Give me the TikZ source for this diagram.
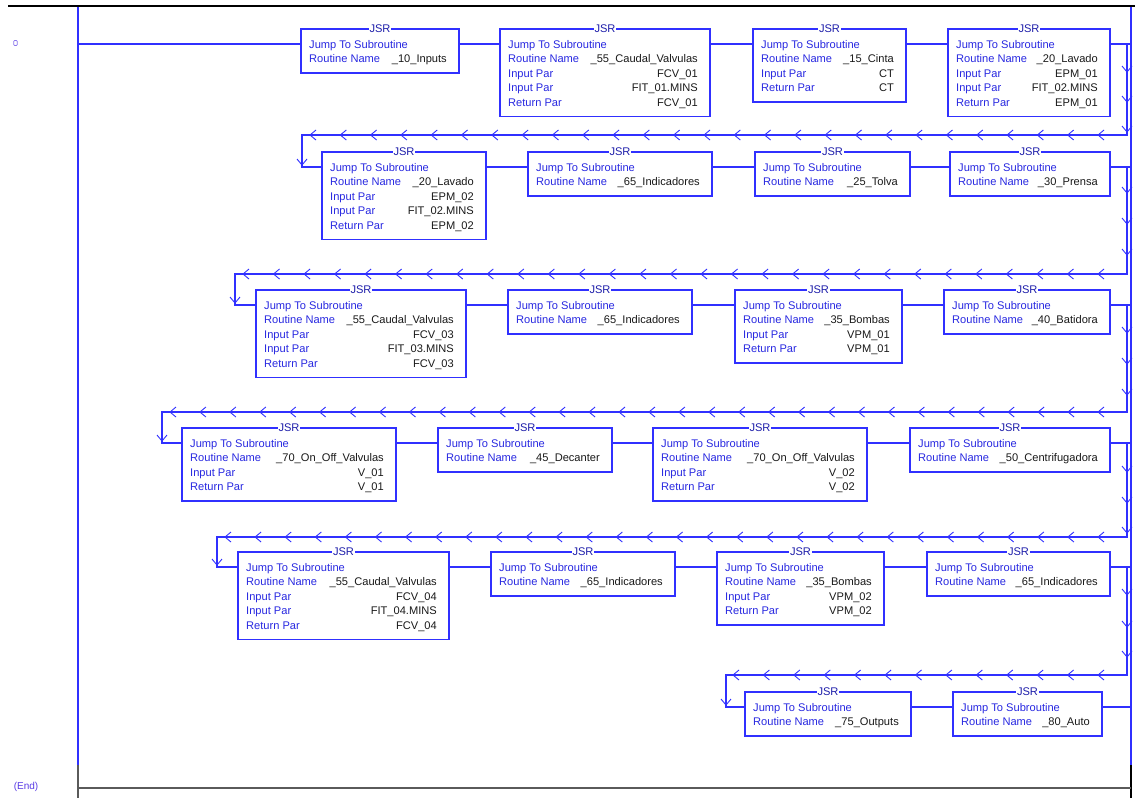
\documentclass[tikz,border=0pt]{standalone}
\usepackage{fontspec}
\setmainfont{Liberation Sans}
\usetikzlibrary{calc}

\definecolor{wireblue}{RGB}{48,48,255}
\definecolor{lblblue}{RGB}{40,40,225}
\definecolor{tagblue}{RGB}{30,30,170}
\definecolor{valblack}{RGB}{25,25,25}
\definecolor{railgray}{RGB}{90,90,90}
\definecolor{endpurple}{RGB}{90,60,230}

\tikzset{
  wire/.style={draw=wireblue, line width=1.3pt},
  rail/.style={draw=wireblue, line width=1.4pt},
  railend/.style={draw=railgray, line width=1.8pt},
  jsrframe/.style={draw=wireblue, line width=1.3pt, rectangle, inner sep=0pt,
                   outer sep=0pt, anchor=north west},
  jsrtag/.style={fill=white, text=tagblue, inner sep=0.6pt,
                 font=\fontsize{11.1}{13}\selectfont},
  lbl/.style={anchor=base west, text=lblblue, inner sep=0pt,
              font=\fontsize{11.1}{13}\selectfont},
  val/.style={anchor=base east, text=valblack, inner sep=0pt,
              font=\fontsize{11.1}{13}\selectfont},
  chev/.style={draw=wireblue, line width=0.9pt},
}

% JSR instruction block: name, left x, right x, rung y, number of text lines, routine
\newcommand{\jsrbox}[6]{%
  \pgfmathsetmacro{\jsrh}{15+14.5*#5}%
  \node[jsrframe, minimum width={#3-#2}, minimum height={\jsrh}] (#1) at (#2,#4-15) {};
  \node[jsrtag] (#1-tag) at (#1.north) {JSR};
  \coordinate (#1-in) at (#2,#4);
  \coordinate (#1-out) at (#3,#4);
  \node[lbl] (#1-l0) at ($(#1.north west)+(8,19)$) {Jump To Subroutine};
  \node[lbl] (#1-l1) at ($(#1.north west)+(8,33.5)$) {Routine Name};
  \node[val] (#1-v1) at ($(#1.north east)+(-12,33.5)$) {#6};
}
% parameter line k of a JSR block
\newcommand{\jsrpar}[4]{%
  \node[lbl] (#1-l#2) at ($(#1.north west)+(8,{19+14.5*#2})$) {#3};
  \node[val] (#1-v#2) at ($(#1.north east)+(-12,{19+14.5*#2})$) {#4};
}
% left-pointing flow marks along a return wire: y, first x, last x
\newcommand{\leftchevs}[3]{%
  \pgfmathtruncatemacro{\nch}{round((#3-#2)/30.3)}%
  \pgfmathsetmacro{\chstep}{(#3-#2)/\nch}%
  \foreach \k in {0,...,\nch} {
    \pgfmathsetmacro{\xc}{#2+\k*\chstep}
    \draw[chev] (\xc+6,#1-5) -- (\xc,#1) -- (\xc+6,#1+5);
  }
}
% downward flow mark with its tip at (x,y)
\newcommand{\downchev}[2]{%
  \draw[chev] (#1-5,#2-6) -- (#1,#2) -- (#1+5,#2-6);
}

\begin{document}
\begin{tikzpicture}[x=1pt,y=-1pt]
  \useasboundingbox (0,0) rectangle (1135,798);
  \fill[white] (0,0) rectangle (1135,798);

  % page header line and power rails
  \coordinate (hdr-l) at (8,6);
  \coordinate (hdr-r) at (1135,6);
  \draw[black, line width=2pt] (hdr-l) -- (hdr-r);
  \coordinate (lr-top) at (78,7);
  \coordinate (lr-mid) at (78,765);
  \coordinate (lr-bot) at (78,798);
  \coordinate (rr-top) at (1131,7);
  \coordinate (rr-mid) at (1131,765);
  \coordinate (rr-bot) at (1131,798);
  \draw[rail] (lr-top) -- (lr-mid);
  \draw[railend] (lr-mid) -- (lr-bot);
  \draw[rail] (rr-top) -- (rr-mid);
  \draw[black, line width=1.6pt] (rr-mid) -- (rr-bot);
  \coordinate (end-l) at (78,788);
  \coordinate (end-r) at (1131,788);
  \draw[railend] (end-l) -- (end-r);

  % rung marker and end label
  \node[draw=endpurple!70, line width=0.7pt, minimum width=3.5pt, minimum height=5pt,
        inner sep=0pt, rounded corners=0.8pt] (rung0) at (15.5,43) {};
  \node[text=endpurple, font=\fontsize{10}{12}\selectfont, inner sep=0pt] (endlbl) at (26,787) {(End)};

  % ---- rung line 1 ----
  \jsrbox{b11}{301}{459}{44}{2}{\_10\_Inputs}
  \jsrbox{b12}{500}{710}{44}{5}{\_55\_Caudal\_Valvulas}
  \jsrpar{b12}{2}{Input Par}{FCV\_01}
  \jsrpar{b12}{3}{Input Par}{FIT\_01.MINS}
  \jsrpar{b12}{4}{Return Par}{FCV\_01}
  \jsrbox{b13}{753}{906}{44}{4}{\_15\_Cinta}
  \jsrpar{b13}{2}{Input Par}{CT}
  \jsrpar{b13}{3}{Return Par}{CT}
  \jsrbox{b14}{948}{1110}{44}{5}{\_20\_Lavado}
  \jsrpar{b14}{2}{Input Par}{EPM\_01}
  \jsrpar{b14}{3}{Input Par}{FIT\_02.MINS}
  \jsrpar{b14}{4}{Return Par}{EPM\_01}

  % ---- rung line 2 ----
  \jsrbox{b21}{322}{486}{167}{5}{\_20\_Lavado}
  \jsrpar{b21}{2}{Input Par}{EPM\_02}
  \jsrpar{b21}{3}{Input Par}{FIT\_02.MINS}
  \jsrpar{b21}{4}{Return Par}{EPM\_02}
  \jsrbox{b22}{528}{712}{167}{2}{\_65\_Indicadores}
  \jsrbox{b23}{755}{910}{167}{2}{\_25\_Tolva}
  \jsrbox{b24}{950}{1110}{167}{2}{\_30\_Prensa}

  % ---- rung line 3 ----
  \jsrbox{b31}{256}{466}{305}{5}{\_55\_Caudal\_Valvulas}
  \jsrpar{b31}{2}{Input Par}{FCV\_03}
  \jsrpar{b31}{3}{Input Par}{FIT\_03.MINS}
  \jsrpar{b31}{4}{Return Par}{FCV\_03}
  \jsrbox{b32}{508}{692}{305}{2}{\_65\_Indicadores}
  \jsrbox{b33}{735}{902}{305}{4}{\_35\_Bombas}
  \jsrpar{b33}{2}{Input Par}{VPM\_01}
  \jsrpar{b33}{3}{Return Par}{VPM\_01}
  \jsrbox{b34}{944}{1110}{305}{2}{\_40\_Batidora}

  % ---- rung line 4 ----
  \jsrbox{b41}{182}{396}{443}{4}{\_70\_On\_Off\_Valvulas}
  \jsrpar{b41}{2}{Input Par}{V\_01}
  \jsrpar{b41}{3}{Return Par}{V\_01}
  \jsrbox{b42}{438}{612}{443}{2}{\_45\_Decanter}
  \jsrbox{b43}{653}{867}{443}{4}{\_70\_On\_Off\_Valvulas}
  \jsrpar{b43}{2}{Input Par}{V\_02}
  \jsrpar{b43}{3}{Return Par}{V\_02}
  \jsrbox{b44}{910}{1110}{443}{2}{\_50\_Centrifugadora}

  % ---- rung line 5 ----
  \jsrbox{b51}{238}{449}{567}{5}{\_55\_Caudal\_Valvulas}
  \jsrpar{b51}{2}{Input Par}{FCV\_04}
  \jsrpar{b51}{3}{Input Par}{FIT\_04.MINS}
  \jsrpar{b51}{4}{Return Par}{FCV\_04}
  \jsrbox{b52}{491}{675}{567}{2}{\_65\_Indicadores}
  \jsrbox{b53}{717}{884}{567}{4}{\_35\_Bombas}
  \jsrpar{b53}{2}{Input Par}{VPM\_02}
  \jsrpar{b53}{3}{Return Par}{VPM\_02}
  \jsrbox{b54}{927}{1110}{567}{2}{\_65\_Indicadores}

  % ---- rung line 6 ----
  \jsrbox{b61}{745}{911}{707}{2}{\_75\_Outputs}
  \jsrbox{b62}{953}{1102}{707}{2}{\_80\_Auto}

  % rail taps and wrap-around points
  \coordinate (lr-1) at (78,44);
  \foreach \r/\y in {1/44,2/167,3/305,4/443,5/567,6/707} {
    \coordinate (rr-\r) at (1131,\y);
  }
  \foreach \r/\y in {1/44,2/167,3/305,4/443,5/567} {
    \coordinate (tap\r) at (1127,\y);
  }
  \coordinate (wrap2) at (302,135);
  \coordinate (wrap3) at (235,274);
  \coordinate (wrap4) at (162,412);
  \coordinate (wrap5) at (217,537);
  \coordinate (wrap6) at (726,675);

  % series connections within each line
  \draw[wire] (lr-1) -- (b11-in);
  \draw[wire] (b11-out) -- (b12-in);
  \draw[wire] (b12-out) -- (b13-in);
  \draw[wire] (b13-out) -- (b14-in);
  \draw[wire] (b14-out) -- (rr-1);

  \draw[wire] (b21-out) -- (b22-in);
  \draw[wire] (b22-out) -- (b23-in);
  \draw[wire] (b23-out) -- (b24-in);
  \draw[wire] (b24-out) -- (rr-2);

  \draw[wire] (b31-out) -- (b32-in);
  \draw[wire] (b32-out) -- (b33-in);
  \draw[wire] (b33-out) -- (b34-in);
  \draw[wire] (b34-out) -- (rr-3);

  \draw[wire] (b41-out) -- (b42-in);
  \draw[wire] (b42-out) -- (b43-in);
  \draw[wire] (b43-out) -- (b44-in);
  \draw[wire] (b44-out) -- (rr-4);

  \draw[wire] (b51-out) -- (b52-in);
  \draw[wire] (b52-out) -- (b53-in);
  \draw[wire] (b53-out) -- (b54-in);
  \draw[wire] (b54-out) -- (rr-5);

  \draw[wire] (b61-out) -- (b62-in);
  \draw[wire] (b62-out) -- (rr-6);

  % wrap-around wires from the end of one line to the start of the next
  \draw[wire] (tap1) |- (wrap2) -- (wrap2 |- b21-in) -- (b21-in);
  \draw[wire] (tap2) |- (wrap3) -- (wrap3 |- b31-in) -- (b31-in);
  \draw[wire] (tap3) |- (wrap4) -- (wrap4 |- b41-in) -- (b41-in);
  \draw[wire] (tap4) |- (wrap5) -- (wrap5 |- b51-in) -- (b51-in);
  \draw[wire] (tap5) |- (wrap6) -- (wrap6 |- b61-in) -- (b61-in);

  % flow marks on the wrap-around wires
  \foreach \yc in {72,102,132,193,224,255,333,364,395,472,503,533,595,627,657} {
    \downchev{1127}{\yc}
  }
  \leftchevs{135}{310}{1098}
  \leftchevs{274}{243}{1098}
  \leftchevs{412}{170}{1098}
  \leftchevs{537}{225}{1098}
  \leftchevs{675}{733}{1098}
  \downchev{302}{165}
  \downchev{235}{303}
  \downchev{162}{441}
  \downchev{217}{565}
  \downchev{726}{705}
\end{tikzpicture}
\end{document}
